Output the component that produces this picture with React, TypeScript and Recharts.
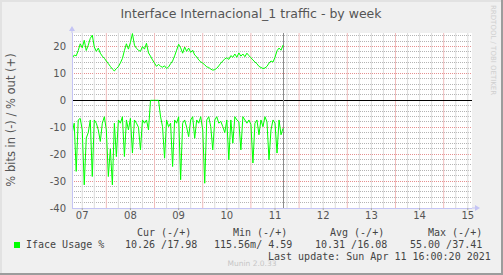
import { LineChart, Line, XAxis, YAxis, CartesianGrid, ReferenceLine, ReferenceDot } from 'recharts';

// samples are hourly, counted in hours after Apr 07 00:00
const START_HOUR = 7;

const OUT_PCT = [
  15.6, 16.8, 16.5, 18.5, 21, 19.5, 22.3, 18.5, 20.5, 23,
  24.2, 19.8, 18.2, 19.4, 17.5, 16.4, 15.6, 14.6, 13.6, 12.6,
  11.6, 10.9, 11.8, 12.5, 13.9, 15.5, 18.5, 21, 19, 21.5,
  24.8, 20.5, 19.3, 18.6, 18.2, 20, 19, 21.2, 17.6, 16.4,
  15, 13.8, 12.6, 13.4, 12.6, 12.3, 12.8, 11.8, 12.4, 13.6,
  14.6, 16.5, 18.6, 20.8, 19.5, 17.5, 19.8, 18.2, 19.4, 17.8,
  18.6, 16.8, 16.2, 15, 14.3, 13.8, 13.2, 12.4, 12.2, 11.6,
  11.2, 11.4, 11.9, 12.8, 13.8, 14.6, 15.4, 15.8, 15.2, 16.6,
  16, 17.2, 16, 17.6, 16.4, 17.2, 16.2, 17.5, 16.6, 15.8,
  15, 14.2, 13.6, 12.6, 12.2, 11.8, 12, 12.6, 13.8, 14.6,
  14.2, 16, 18.4, 19.4, 18.6, 20.5,
];

const IN_PCT = [
  -12.2, -8.5, -26.4, -7.3, -6.7, -11, -31.4, -14, -12, -7.3,
  -28.3, -7.3, -8.5, -11, -15.3, -8.5, -6.1, -11, -28.3, -18,
  -31.4, -8.5, -20.9, -7.3, -8.5, -6.1, -20.9, -7.3, -11, -6.7,
  -19.6, -7.3, -8.5, -10, -18.4, -7.3, -8.5, -7.3, -11, 0,
  0, 0, 0, 0, -6.1, -9.8, -21.5, -7.3, -9.8, -8.5,
  -24.6, -7.3, -8.5, -6.1, -29.5, -8.5, -7.3, -10, -13.5, -7.3,
  -6.1, -14.1, -7.3, -8.5, -6.1, -11, -30.8, -7.3, -6.1, -9.8,
  -18.4, -7.3, -6.1, -8.5, -7.8, -9.8, -12, -7.3, -22.1, -7.3,
  -15.9, -6.1, -7.3, -8, -18.4, -6.1, -7.3, -8.5, -7.3, -9,
  -23.3, -8.5, -7.3, -12.8, -7.3, -9.8, -6.1, -8, -22.1, -11,
  -7.3, -8.5, -19.6, -7.3, -12.8, -10.4,
];

const DAY_LABELS = ['07', '08', '09', '10', '11', '12', '13', '14', '15'];
const DAY_TICKS = [12, 36, 60, 84, 108, 132, 156, 180, 204];
const MIDNIGHTS = [24, 48, 72, 96, 120, 144, 168, 192];
const Y_TICKS = [-40, -30, -20, -10, 0, 10, 20];
const Y_MAJOR = [-30, -20, -10, 10, 20];
const NOW_HOUR = 112.1;
const X_DOMAIN = [6.9, 206.1];

const LEGEND_HEAD = ['Cur (-/+)', 'Min (-/+)', 'Avg (-/+)', 'Max (-/+)'];
const LEGEND_VALS = ['10.26 /17.98', '115.56m/ 4.59', '10.31 /16.08', '55.00 /37.41'];
const HEAD_LEFT = [137, 233, 330, 428];
const VAL_LEFT = [125, 214, 315, 410];

const data = OUT_PCT.map((v, i) => ({ h: START_HOUR + i, out: v, inn: IN_PCT[i] }));

const minorY: number[] = [];
for (let v = -38; v <= 24; v += 2) if (v % 10 !== 0) minorY.push(v);
const minorX: number[] = [];
for (let h = 12; h <= 204; h += 6) if (h % 24 !== 0) minorX.push(h);

const AXIS = '#c4c4f4';
const MINOR = '#b4b4b4';
const MAJOR = '#e69090';
const mono = '"DejaVu Sans Mono", monospace';

function Txt({ x, y, size, children, color = '#444', font = mono, center = false }: any) {
  return (
    <div
      style={{
        position: 'absolute', left: center ? x - 150 : x, top: y - size / 2, width: center ? 300 : undefined,
        textAlign: center ? 'center' : 'left', fontSize: size, lineHeight: `${size}px`,
        fontFamily: font, color, whiteSpace: 'pre',
      }}
    >
      {children}
    </div>
  );
}

export default function App() {
  return (
    <div style={{ position: 'relative', width: 503, height: 275, background: '#f0f0f0', overflow: 'hidden' }}>
      <style>{'body{margin:0}'}</style>
      <div style={{ position: 'absolute', left: 0, top: 0, width: 503, height: 2, background: '#e2e2e2' }} />
      <div style={{ position: 'absolute', left: 0, top: 0, width: 2, height: 275, background: '#e2e2e2' }} />
      <div style={{ position: 'absolute', left: 501, top: 0, width: 2, height: 275, background: '#9c9c9c' }} />
      <div style={{ position: 'absolute', left: 0, top: 273, width: 503, height: 2, background: '#9c9c9c' }} />

      <Txt x={251} y={14} size={12.5} color="#555" font="DejaVu Sans" center>
        Interface Internacional_1 traffic - by week
      </Txt>
      <div
        style={{
          position: 'absolute', left: 11 - 150, top: 120 - 7, width: 300, height: 14, lineHeight: '14px',
          textAlign: 'center', transform: 'rotate(-90deg)', fontFamily: 'DejaVu Sans', fontSize: 11.5, color: '#555',
        }}
      >
        % bits in (-) / % out (+)
      </div>
      <div
        style={{
          position: 'absolute', left: 489, top: 5, writingMode: 'vertical-rl', fontFamily: 'DejaVu Sans',
          fontSize: 7, color: '#cfcfcf', whiteSpace: 'pre',
        }}
      >
        RRDTOOL / TOBI OETIKER
      </div>

      <div style={{ position: 'absolute', left: 0, top: 0 }}>
        <LineChart width={503} height={275} data={data} margin={{ top: 33, right: 31, bottom: 37, left: 32 }}
          style={{ fontFamily: 'DejaVu Sans' }}>
          <CartesianGrid fill="#ffffff" horizontal={false} vertical={false} />
          <CartesianGrid horizontalValues={minorY} vertical={false} stroke={MINOR}
            strokeDasharray="1 1" shapeRendering="crispEdges" />
          <CartesianGrid horizontalValues={Y_MAJOR} vertical={false} stroke={MAJOR}
            strokeDasharray="1 1" shapeRendering="crispEdges" />
          <XAxis
            type="number" dataKey="h" domain={X_DOMAIN} ticks={DAY_TICKS} allowDataOverflow
            tickFormatter={(v: number) => DAY_LABELS[DAY_TICKS.indexOf(v)]}
            height={30} tickSize={2} tickMargin={2} interval={0}
            axisLine={{ stroke: AXIS, shapeRendering: 'crispEdges' }} tickLine={{ stroke: '#aaaaaa' }}
            tick={{ fill: '#555', fontSize: 10 }}
          />
          <YAxis
            type="number" domain={[-40, 25]} ticks={Y_TICKS} allowDataOverflow width={40} interval={0}
            tickSize={0} tickMargin={6} axisLine={{ stroke: AXIS, shapeRendering: 'crispEdges' }} tickLine={false}
            tick={{ fill: '#555', fontSize: 10 }}
          />
          {minorX.map((h) => (
            <ReferenceLine key={`mx${h}`} x={h} stroke="#dcdcdc" strokeWidth={1} />
          ))}
          {MIDNIGHTS.map((h) => (
            <ReferenceLine key={`md${h}`} x={h} stroke="#f0bcbc" strokeWidth={1} />
          ))}
          <ReferenceLine y={0} stroke="#000000" strokeWidth={1} shapeRendering="crispEdges" />
          <ReferenceLine x={NOW_HOUR} stroke="#8c8c8c" strokeWidth={1} shapeRendering="crispEdges" />
          <Line dataKey="out" stroke="#00ff00" strokeWidth={1} dot={false} isAnimationActive={false} type="linear" />
          <Line dataKey="inn" stroke="#00ff00" strokeWidth={1} dot={false} isAnimationActive={false} type="linear" />
          <ReferenceDot
            x={X_DOMAIN[0]} y={25} ifOverflow="visible"
            shape={(p: any) => (
              <g>
                <path d={`M${p.cx - 3},${p.cy - 2} L${p.cx + 3},${p.cy - 2} L${p.cx},${p.cy - 7} Z`} fill={AXIS} />
                <line x1={p.cx} y1={p.cy} x2={p.cx} y2={p.cy - 2} stroke={AXIS} />
              </g>
            )}
          />
          <ReferenceDot
            x={X_DOMAIN[1]} y={-40} ifOverflow="visible"
            shape={(p: any) => (
              <g>
                <line x1={p.cx} y1={p.cy} x2={p.cx + 3} y2={p.cy} stroke={AXIS} />
                <path d={`M${p.cx + 3},${p.cy - 3} L${p.cx + 3},${p.cy + 3} L${p.cx + 8},${p.cy} Z`} fill={AXIS} />
              </g>
            )}
          />
        </LineChart>
      </div>

      <div style={{ position: 'absolute', left: 14, top: 242, width: 6, height: 6, background: '#00ff00' }} />
      <Txt x={26} y={245} size={10}>Iface Usage %</Txt>
      {LEGEND_HEAD.map((t, i) => (
        <Txt key={t} x={HEAD_LEFT[i]} y={233} size={10}>{t}</Txt>
      ))}
      {LEGEND_VALS.map((t, i) => (
        <Txt key={t} x={VAL_LEFT[i]} y={245} size={10}>{t}</Txt>
      ))}
      <Txt x={268} y={257} size={10}>Last update: Sun Apr 11 16:00:20 2021</Txt>
      <Txt x={252} y={264} size={7.5} color="#c6c6c6" font="DejaVu Sans" center>Munin 2.0.33</Txt>
    </div>
  );
}
